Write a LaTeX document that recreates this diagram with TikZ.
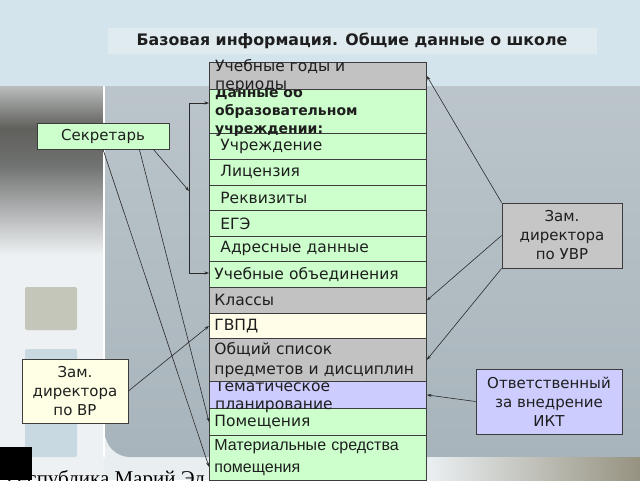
\documentclass[tikz,border=0pt]{standalone}
\usepackage{fontspec}
\setmainfont{DejaVu Sans}
\newfontfamily\arialf{Liberation Sans}
\newfontfamily\timesf{Liberation Serif}
\usetikzlibrary{arrows.meta}
\definecolor{zel}{HTML}{CCFFCC}
\definecolor{ser}{HTML}{C2C2C2}
\definecolor{ser2}{HTML}{C6C6C6}
\definecolor{zhel}{HTML}{FFFDE8}
\definecolor{zhel2}{HTML}{FFFFE6}
\definecolor{sir}{HTML}{CCCCFF}
\definecolor{ram}{HTML}{3C3C3C}
\definecolor{tekst}{HTML}{1E1E1E}
\definecolor{strel}{HTML}{2A2A2A}
\definecolor{nebo}{HTML}{D4E4EC}
\definecolor{polosa}{HTML}{E0EBEF}
\definecolor{osnova}{HTML}{E9EEF1}
\definecolor{panelv}{HTML}{BCC6CC}
\definecolor{paneln}{HTML}{A8B4BB}
\definecolor{bezh}{HTML}{969280}
\definecolor{levv}{HTML}{BABDBD}
\definecolor{levt}{HTML}{60605C}
\definecolor{levs}{HTML}{707271}
\definecolor{levn}{HTML}{EEF1F3}
\definecolor{kvsr}{HTML}{C4C6BA}
\definecolor{kvgo}{HTML}{C9D9E2}
\tikzset{%
    rw/.style={draw=ram, line width=0.8pt, anchor=north west, inner xsep=5pt, inner ysep=0pt,
        text width=207pt, align=left, text=tekst, font=\fontsize{15.5}{20}\selectfont},
    rwi/.style={rw, inner xsep=11pt, text width=195pt},
    bx/.style={draw=ram, line width=0.8pt, align=center, inner sep=0pt, text=tekst,
        font=\fontsize{15}{19}\selectfont},
    txt/.style={anchor=north west, inner sep=0pt, align=left, text=tekst},
    con/.style={line width=0.6pt, draw=strel},
    cona/.style={con, -{Stealth[length=4.5pt, width=3pt]}},
}

\begin{document}
\begin{tikzpicture}[x=1pt, y=-1pt]
    \useasboundingbox (0,0) rectangle (640,480);
    % fon slajda
    \fill[osnova] (0,0) rectangle (640,480);
    \shade[top color=panelv, bottom color=paneln, rounded corners=25pt] (105,60) rectangle (700,457);
    \shade[left color=osnova, right color=bezh] (430,457) rectangle (640,480);
    \fill[nebo] (0,0) rectangle (640,86);
    \shade[top color=levv, bottom color=levt] (0,86) rectangle (104,128);
    \shade[top color=levt, bottom color=levs] (0,128) rectangle (104,165);
    \shade[top color=levs, bottom color=levn] (0,165) rectangle (104,255);
    \fill[levn] (0,255) rectangle (104,480);
    \draw[white, line width=1.5pt] (104,86) -- (104,457);
    \fill[kvsr, rounded corners=2pt] (25,287) rectangle (77,330);
    \fill[kvgo, rounded corners=2pt] (25,349) rectangle (77,457);
    \node[anchor=base west, inner sep=0pt, font=\timesf\fontsize{21}{21}\selectfont] (resp) at (6,485) {Республика Марий Эл};
    \fill[black] (0,447) rectangle (32,480);
    \fill[polosa] (108,28) rectangle (597,54);
    \node[font=\bfseries\fontsize{15.8}{18}\selectfont, text=tekst] (titul) at (352,41) {Базовая информация. Общие данные о школе};

    % tablica snizu vverh
    \node[rw, fill=zel, minimum height=45pt, font=\arialf\fontsize{16}{22}\selectfont] (matsr) at (209,435) {Материальные средства\\помещения};
    \node[rw, fill=zel, minimum height=27pt] (pomesh) at (209,408) {Помещения};
    \node[rw, fill=sir, minimum height=27pt] (tema) at (209,381) {};
    \node[txt, font=\fontsize{15.5}{18}\selectfont] (tematxt) at (215,380) {Тематическое\\планирование};
    \node[rw, fill=ser, minimum height=43pt] (spisok) at (209,338) {Общий список\\предметов и дисциплин};
    \node[rw, fill=zhel, minimum height=25pt] (gvpd) at (209,313) {ГВПД};
    \node[rw, fill=ser, minimum height=26pt] (klassy) at (209,287) {Классы};
    \node[rw, fill=zel, minimum height=26pt] (obed) at (209,261) {Учебные объединения};
    \node[rwi, fill=zel, minimum height=25pt] (adres) at (209,236) {Адресные данные};
    \node[rwi, fill=zel, minimum height=26pt] (ege) at (209,210) {ЕГЭ};
    \node[rwi, fill=zel, minimum height=25pt] (rekv) at (209,185) {Реквизиты};
    \node[rwi, fill=zel, minimum height=26pt] (lic) at (209,159) {Лицензия};
    \node[rwi, fill=zel, minimum height=26pt] (uchr) at (209,133) {Учреждение};
    \node[rw, fill=zel, minimum height=44pt] (dannye) at (209,89) {};
    \node[txt, font=\bfseries\fontsize{14}{18}\selectfont] (dannyetxt) at (215,86.5) {Данные об\\образовательном\\учреждении:};
    \node[rw, fill=ser, minimum height=27pt] (godi) at (209,62) {};
    \node[txt, font=\fontsize{15.5}{17.5}\selectfont] (goditxt) at (215,59.6) {Учебные годы и\\периоды};

    % otvetstvennye
    \node[bx, fill=zel, minimum width=132pt, minimum height=26pt] (sekr) at (103,136) {Секретарь};
    \node[bx, fill=zhel2, minimum width=106pt, minimum height=64pt] (vr) at (75,391) {Зам.\\директора\\по ВР};
    \node[bx, fill=ser2, minimum width=120pt, minimum height=65pt] (uvr) at (562,235.5) {Зам.\\директора\\по УВР};
    \node[bx, fill=sir, minimum width=146pt, minimum height=65pt] (ikt) at (549,401.5) {Ответственный\\за внедрение\\ИКТ};

    % strelki
    \coordinate (brt) at (189,103);
    \coordinate (brb) at (189,273);
    \coordinate (brm) at (189,191);
    \draw[con] (brt) -- (brb);
    \draw[cona] (brt) -- (brt -| dannye.west);
    \draw[cona] (brb) -- (brb -| obed.west);
    \draw[cona] ([xshift=-16pt]sekr.south east) -- (brm);
    \draw[cona] (sekr.south) -- ([shift={(0,9)}]matsr.west);
    \draw[cona] ([xshift=-30pt]sekr.south east) -- (pomesh.west);
    \draw[cona] (vr.east) -- (gvpd.west);
    \draw[cona] (uvr.north west) -- (godi.east);
    \draw[cona] (uvr.west) -- (klassy.east);
    \draw[cona] (uvr.south west) -- (spisok.east);
    \draw[cona] (ikt.west) -- (tema.east);
\end{tikzpicture}
\end{document}
